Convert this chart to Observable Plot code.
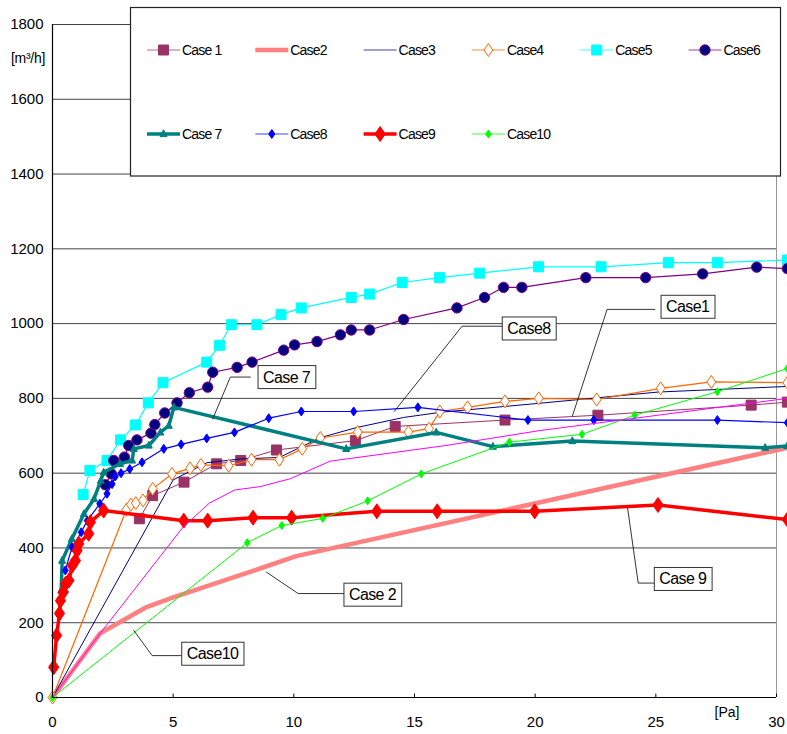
<!DOCTYPE html>
<html><head><meta charset="utf-8">
<script src="https://cdn.jsdelivr.net/npm/d3@7"></script>
<script src="https://cdn.jsdelivr.net/npm/@observablehq/plot@0.6"></script>
<style>
body{margin:0;background:#fff;}
#chart svg{display:block;}
</style></head><body>
<div id="chart"></div>
<script>
// ---- tick values ----
const xTicks = [0, 5, 10, 15, 20, 25, 30];
const yTicks = [0, 200, 400, 600, 800, 1000, 1200, 1400, 1600, 1800];

// ---- series data: [pressure Pa, flow m3/h] ----
const case1 = [[3.6,478],[4.15,540],[5.45,576],[6.8,625],[7.8,634],[9.28,662],[12.55,687],[14.2,725],[18.75,742],[22.6,755],[28.95,782],[30.45,790]];
const case2 = [[0,0],[1.98,172],[3.9,242],[5,268],[8.6,345],[10.1,378],[30.45,668]];
const case3 = [[0,0],[5.0,582],[6.4,628],[7.8,638],[9.4,642],[11.1,695],[12.6,722],[14.55,749],[16.1,763],[20.2,787],[25.1,817],[30.45,832]];
const case4 = [[0,0],[3.06,502],[3.25,516],[3.45,520],[3.75,527],[4.15,558],[4.95,598],[5.7,613],[6.15,622],[7.3,620],[8.25,636],[9.4,636],[10.35,665],[11.1,694],[12.65,710],[14.75,710],[15.6,719],[16.05,765],[17.2,776],[18.75,792],[20.15,800],[22.55,797],[25.2,827],[27.3,844],[30.45,842]];
const case5 = [[1.27,543],[1.55,607],[2.26,634],[2.82,689],[3.44,729],[3.97,788],[4.58,842],[6.39,897],[6.92,942],[7.41,997],[8.47,997],[9.47,1024],[10.31,1042],[12.38,1070],[13.14,1079],[14.49,1110],[16.04,1123],[17.7,1135],[20.14,1152],[22.73,1152],[25.52,1163],[27.55,1163],[30.45,1170]];
const case6 = [[2.19,569],[2.44,598],[2.54,634],[2.98,643],[3.16,674],[3.5,689],[4.08,707],[4.24,730],[4.65,761],[5.16,788],[5.67,815],[6.43,830],[6.64,870],[7.65,883],[8.27,897],[9.58,929],[10.03,943],[10.96,952],[11.93,970],[12.38,983],[13.14,983],[14.55,1011],[16.76,1042],[17.9,1070],[18.69,1097],[19.45,1097],[22.1,1123],[24.58,1123],[26.94,1133],[29.18,1151],[30.45,1147]];
const case7 = [[0.36,286],[0.4,366],[0.8,424],[1.3,491],[1.72,531],[2.0,580],[2.12,602],[2.8,625],[3.3,634],[3.37,665],[3.99,674],[4.47,709],[4.82,727],[5.03,776],[12.17,665],[15.9,709],[18.25,671],[21.54,686],[29.53,668],[30.45,673]];
const case8 = [[0.53,340],[0.81,402],[1.19,442],[1.44,473],[1.96,518],[2.26,545],[2.47,571],[2.6,591],[2.84,600],[3.2,611],[3.71,629],[4.61,665],[5.33,677],[6.39,693],[7.54,709],[8.96,747],[10.31,765],[12.48,765],[15.14,776],[19.7,742],[22.43,742],[27.55,742],[30.45,735]];
const case9 = [[0.05,81],[0.17,166],[0.29,225],[0.33,259],[0.45,282],[0.54,304],[0.68,313],[0.82,353],[0.95,366],[1.02,393],[1.09,411],[1.5,438],[1.57,469],[2.12,500],[5.44,473],[6.43,473],[8.31,481],[9.91,481],[13.44,498],[15.94,498],[19.98,498],[25.09,515],[30.45,476]];
const case10 = [[0,0],[8.07,414],[9.5,460],[11.2,479],[13.06,526],[15.28,598],[18.93,683],[21.94,704],[24.12,755],[27.55,818],[30.45,880]];
const extraSeries = [[0,0],[1.98,172],[5.4,455],[6.5,520],[7.55,555],[8.6,564],[9.85,585],[11.5,632],[16.3,674],[20.2,714],[30.45,800]];

const seriesNames = ["Case 1","Case2","Case3","Case4","Case5","Case6","Case 7","Case8","Case9","Case10"];
const seriesData = [case1,case2,case3,case4,case5,case6,case7,case8,case9,case10];

// ---- callout annotations (data units) ----
const callouts = [
  {label:"Case 7", x:9.70, y:856, leader:[[8.2,857],[7.37,857],[6.64,745]]},
  {label:"Case8", x:19.74, y:986, leader:[[18.66,993],[16.97,993],[14.16,765]]},
  {label:"Case1", x:26.32, y:1044, leader:[[24.96,1038],[22.98,1038],[21.55,754]]},
  {label:"Case 2", x:13.26, y:274, leader:[[12.17,278],[10.18,278],[8.87,335]]},
  {label:"Case 9", x:26.12, y:316, leader:[[25.1,306],[24.27,306],[23.83,507]]},
  {label:"Case10", x:6.63, y:116, leader:[[5.37,112],[4.13,112],[3.37,179]]}
];

// ---- styles ----
const sym = {
  square:{draw(c,s){const r=Math.sqrt(s/Math.PI);c.rect(-r,-r,2*r,2*r);}},
  diamond:{draw(c,s){const r=Math.sqrt(s/Math.PI),w=r*0.68;c.moveTo(0,-r);c.lineTo(w,0);c.lineTo(0,r);c.lineTo(-w,0);c.closePath();}},
  triangle:{draw(c,s){const r=Math.sqrt(s/Math.PI);c.moveTo(0,-r*1.2);c.lineTo(r,r*0.75);c.lineTo(-r,r*0.75);c.closePath();}},
  circle:{draw(c,s){const r=Math.sqrt(s/Math.PI);c.moveTo(r,0);c.arc(0,0,r,0,2*Math.PI);}}
};
const styles = [
  {stroke:"#993366", w:1, sym:"square", r:5, fill:"#993366", ms:"#993366"},
  {stroke:"#FF8080", w:4.5},
  {stroke:"#000080", w:1},
  {stroke:"#FF6600", w:1.2, sym:"diamond", r:6.5, fill:"#ffffff", ms:"#FF6600"},
  {stroke:"#00FFFF", w:1.2, sym:"square", r:5, fill:"#00FFFF", ms:"#00FFFF"},
  {stroke:"#800080", w:1.2, sym:"circle", r:5.2, fill:"#000080", ms:"#800080"},
  {stroke:"#008080", w:3.5, sym:"triangle", r:3.5, fill:"#008080", ms:"#008080"},
  {stroke:"#0000FF", w:1.2, sym:"diamond", r:4.5, fill:"#0000FF", ms:"#0000FF"},
  {stroke:"#FF0000", w:3.5, sym:"diamond", r:7.5, fill:"#FF0000", ms:"#FF0000"},
  {stroke:"#00FF00", w:1, sym:"diamond", r:4, fill:"#00FF00", ms:"#00FF00"}
];
const extraStyle = {stroke:"#FF00FF", w:1};

const baseFont = "'Liberation Sans', Arial, sans-serif";

const seriesMarks = [];
seriesData.forEach((d,i)=>{
  const s = styles[i];
  seriesMarks.push(Plot.line(d,{x:p=>p[0], y:p=>p[1], stroke:s.stroke, strokeWidth:s.w}));
  if (s.sym) seriesMarks.push(Plot.dot(d,{x:p=>p[0], y:p=>p[1], symbol:sym[s.sym], r:s.r, fill:s.fill, stroke:s.ms, strokeWidth:1}));
});
seriesMarks.push(Plot.line(extraSeries,{x:p=>p[0], y:p=>p[1], stroke:extraStyle.stroke, strokeWidth:extraStyle.w}));

const calloutMarks = [];
callouts.forEach(c=>{
  calloutMarks.push(Plot.line(c.leader,{x:p=>p[0], y:p=>p[1], stroke:"#000", strokeWidth:0.8}));
});
calloutMarks.push(Plot.text(callouts,{x:"x", y:"y", text:"label", fontSize:16, fill:"#000", fontFamily:baseFont}));

const chart = Plot.plot({
  width:787, height:734,
  marginLeft:52, marginRight:11, marginTop:24, marginBottom:37,
  style:{fontFamily:baseFont, fontSize:"15px", background:"#fff", color:"#000"},
  x:{domain:[0,30]},
  y:{domain:[0,1800]},
  marks:[
    Plot.ruleY(yTicks.slice(1),{stroke:"#444", strokeWidth:1}),
    Plot.ruleX([30],{stroke:"#999", strokeWidth:1}),
    Plot.axisY(yTicks,{tickSize:0, tickPadding:9, fontSize:15, fontFamily:baseFont, label:null, tickFormat:d=>String(d)}),
    Plot.axisX(xTicks,{tickSize:0, tickPadding:19, fontSize:15, fontFamily:baseFont, label:null, tickFormat:d=>String(d)}),
    Plot.ruleX(xTicks.slice(1),{y1:0, y2:9, stroke:"#000"}),
    ...seriesMarks,
    Plot.ruleX([0],{stroke:"#000", strokeWidth:1.2}),
    Plot.ruleY([0],{stroke:"#000", strokeWidth:1.2}),
    ...calloutMarks
  ]
});
document.getElementById("chart").appendChild(chart);

const svg = d3.select(chart);
svg.selectAll("text").attr("font-family", baseFont);
// tighten callout letters and draw boxes behind them
svg.selectAll('g[aria-label="text"] text').each(function(){
  const t = d3.select(this).attr("letter-spacing","-0.6px");
  const b = this.getBBox();
  d3.select(this.parentNode).insert("rect", () => this)
    .attr("transform", t.attr("transform"))
    .attr("x", b.x-5).attr("y", b.y-3).attr("width", b.width+10).attr("height", b.height+6)
    .attr("fill","#fff").attr("stroke","#333").attr("stroke-width",1);
});

// axis unit labels
svg.append("text").attr("x",11).attr("y",63).attr("text-anchor","start").attr("font-family",baseFont)
  .attr("font-size",14).attr("letter-spacing","-0.3px").text("[m³/h]");
svg.append("text").attr("x",727).attr("y",717).attr("text-anchor","middle").attr("font-family",baseFont)
  .attr("font-size",14).text("[Pa]");

// legend
const lg = svg.append("g");
lg.append("rect").attr("x",130.5).attr("y",7.5).attr("width",650).attr("height",168.5)
  .attr("fill","#fff").attr("stroke","#222").attr("stroke-width",1.2);
seriesNames.forEach((name,i)=>{
  const s = styles[i];
  const row = i < 6 ? 0 : 1, col = i % 6;
  const x0 = 147 + col*108.3, y0 = row ? 134 : 50;
  lg.append("line").attr("x1",x0).attr("x2",x0+33).attr("y1",y0).attr("y2",y0)
    .attr("stroke",s.stroke).attr("stroke-width",s.w).attr("stroke-opacity", s.w<2?0.75:1);
  if (s.sym) {
    lg.append("path").attr("transform",`translate(${x0+16.5},${y0})`)
      .attr("d", d3.symbol(sym[s.sym], Math.PI*s.r*s.r)())
      .attr("fill",s.fill).attr("stroke",s.ms).attr("stroke-width",1);
  }
  lg.append("text").attr("x",x0+35).attr("y",y0).attr("dy","0.36em").attr("text-anchor","start")
    .attr("font-family",baseFont).attr("font-size",14).attr("letter-spacing","-0.8px").text(name);
});
</script>
</body></html>
